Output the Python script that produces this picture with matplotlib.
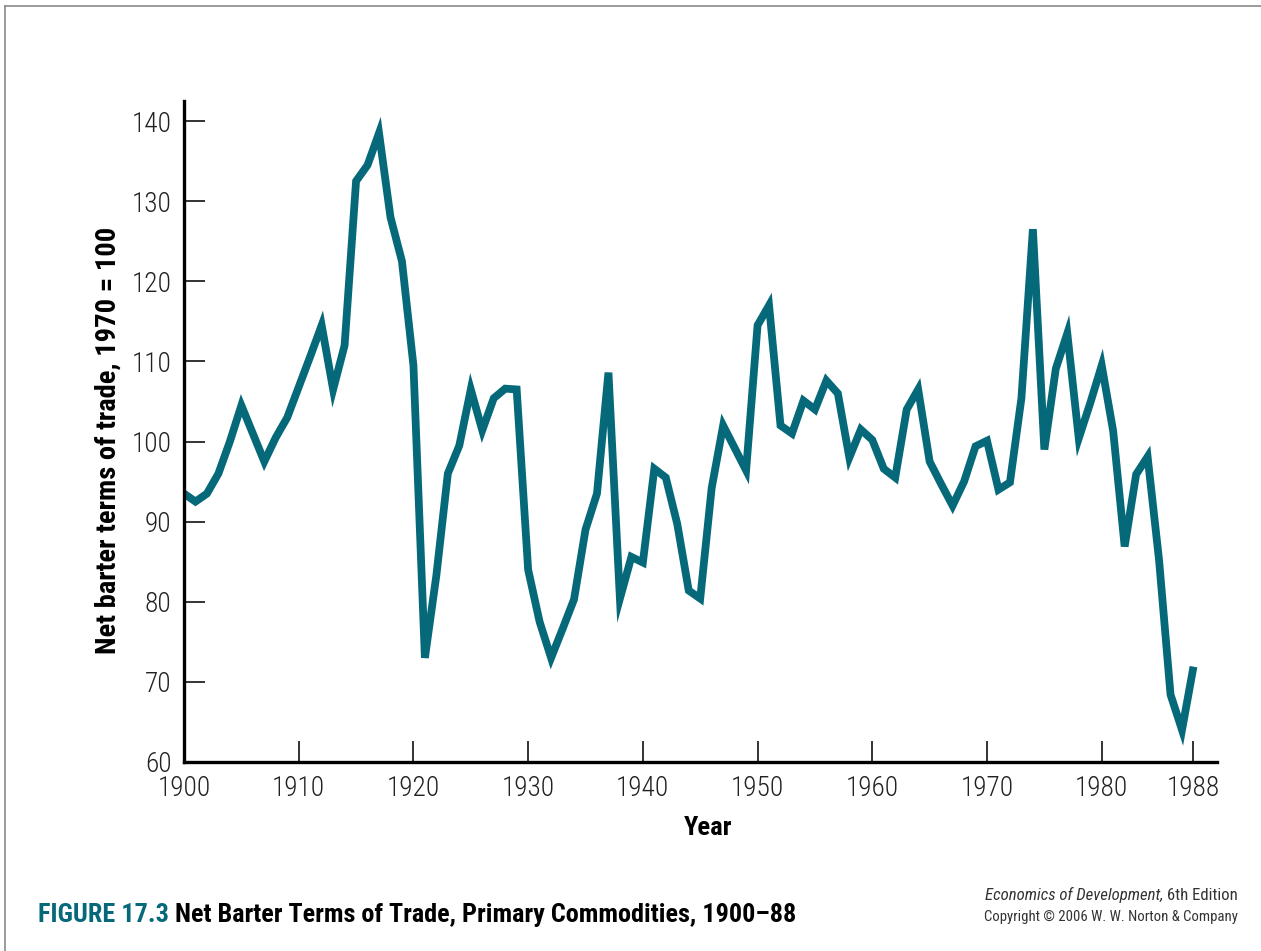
import matplotlib
matplotlib.use("Agg")
import matplotlib.pyplot as plt
import numpy as np

# ── Data ──────────────────────────────────────────────────────────────────────
years = list(range(1900, 1989))
tot = [
    93.5, 92.5, 93.5, 96.0, 100.0, 104.5, 101.0, 97.5, 100.5, 103.0,   # 1900-09
    106.8, 110.6, 114.5, 106.5, 112.0, 132.5, 134.5, 138.5, 128.0, 122.5,  # 1910-19
    109.5, 73.0, 83.3, 96.0, 99.5, 106.5, 101.4, 105.4, 106.6, 106.5,  # 1920-29
    84.0, 77.5, 73.0, 76.6, 80.3, 89.0, 93.5, 108.6, 80.4, 85.6,       # 1930-39
    84.9, 96.6, 95.5, 89.7, 81.4, 80.4, 94.2, 102.0, 99.2, 96.4,       # 1940-49
    114.5, 117.0, 102.0, 101.0, 105.1, 104.0, 107.6, 106.0, 98.0, 101.5,  # 1950-59
    100.2, 96.6, 95.5, 104.0, 106.5, 97.5, 94.7, 92.0, 95.0, 99.4,     # 1960-69
    100.1, 94.0, 94.9, 105.4, 126.5, 99.0, 109.1, 113.5, 100.4, 104.8,  # 1970-79
    109.5, 101.3, 86.9, 95.9, 98.1, 85.2, 68.4, 64.0, 71.9,            # 1980-88
]
xticks = [1900, 1910, 1920, 1930, 1940, 1950, 1960, 1970, 1980, 1988]
yticks = [60, 70, 80, 90, 100, 110, 120, 130, 140]

TEAL = "#06697a"
# condensed faces first, whichever is installed
plt.rcParams["font.family"] = ["Liberation Sans Narrow", "Roboto Condensed",
                               "Open Sans Condensed", "Noto Sans", "DejaVu Sans"]
plt.rcParams["font.stretch"] = "condensed"

W, H = 1261, 951
fig = plt.figure(figsize=(W / 100, H / 100), dpi=100)
fig.patch.set_facecolor("white")

# thin slide frame (top and left edges)
fig.add_artist(plt.Line2D([0.004, 0.004], [0.0, 0.9935], transform=fig.transFigure,
                          color="#8a8a8a", lw=1.2))
fig.add_artist(plt.Line2D([0.004, 1.0], [0.9935, 0.9935], transform=fig.transFigure,
                          color="#8a8a8a", lw=1.2))

ax = fig.add_axes([184 / W, 189 / H, 1033 / W, 661 / H])
ax.plot(years, tot, color=TEAL, lw=5.6, solid_joinstyle="miter", solid_capstyle="butt")

ax.set_xlim(1900, 1990.05)
ax.set_ylim(60, 142.5)
ax.set_xticks(xticks)
ax.set_yticks(yticks)

for s in ("top", "right"):
    ax.spines[s].set_visible(False)
for s in ("left", "bottom"):
    ax.spines[s].set_linewidth(2.4)
    ax.spines[s].set_color("black")

ax.tick_params(axis="both", direction="in", length=15, width=1.2, color="#111111",
               labelsize=20, labelcolor="#222222", pad=9)
for lab in ax.get_xticklabels() + ax.get_yticklabels():
    lab.set_fontweight("light")

# ── Labels ─────────────────────────────────────────────────────────────────────
ylab = fig.text(108 / W, 1 - 440 / H, "Net barter terms of trade, 1970 = 100",
                rotation=90, ha="center", va="center", fontsize=20, fontweight="bold")
xlab = fig.text(708 / W, 1 - 828 / H, "Year", ha="center", va="center",
                fontsize=20, fontweight="bold")

# caption in two colours
cap1 = fig.text(38 / W, 1 - 922 / H, "FIGURE 17.3", ha="left", va="baseline",
                fontsize=18, fontweight="bold", color=TEAL)
cap2 = ax.annotate(" Net Barter Terms of Trade, Primary Commodities, 1900\u201388",
                   xy=(1, 0), xycoords=cap1, ha="left", va="bottom",
                   fontsize=18, fontweight="bold", color="black", annotation_clip=False)

# credit, right aligned
ed = fig.text(1238 / W, 1 - 900 / H, " 6th Edition", ha="right", va="baseline",
              fontsize=11, color="#333333")
book = ax.annotate("Economics of Development,", xy=(0, 0), xycoords=ed, ha="right",
                   va="bottom", fontsize=11, style="italic", color="#333333",
                   annotation_clip=False)
copy = fig.text(1238 / W, 1 - 921 / H, "Copyright \u00a9 2006 W. W. Norton & Company",
                ha="right", va="baseline", fontsize=11, color="#333333")

# ── size text to the widths seen in the original ──────────────────────────────
fig.canvas.draw()
r = fig.canvas.get_renderer()

def length(t):
    bb = t.get_window_extent(r)
    return bb.height if t.get_rotation() == 90 else bb.width

def fit(texts, px, cap=None):
    total = sum(length(t) for t in texts)
    for t in texts:
        s = t.get_fontsize() * px / total
        t.set_fontsize(min(s, cap) if cap else s)

fit([ylab], 424, cap=24)
fit([xlab], 48, cap=24)
fit([cap1, cap2], 762, cap=21)
fit([book, ed], 253, cap=13)
fit([copy], 253, cap=13)

lab1960 = [t for t in ax.get_xticklabels() if t.get_text() == "1960"][0]
tick_size = min(20 * 53 / length(lab1960), 22)
ax.tick_params(axis="both", labelsize=tick_size)

fig.savefig("out.png", dpi=100, facecolor="white")
